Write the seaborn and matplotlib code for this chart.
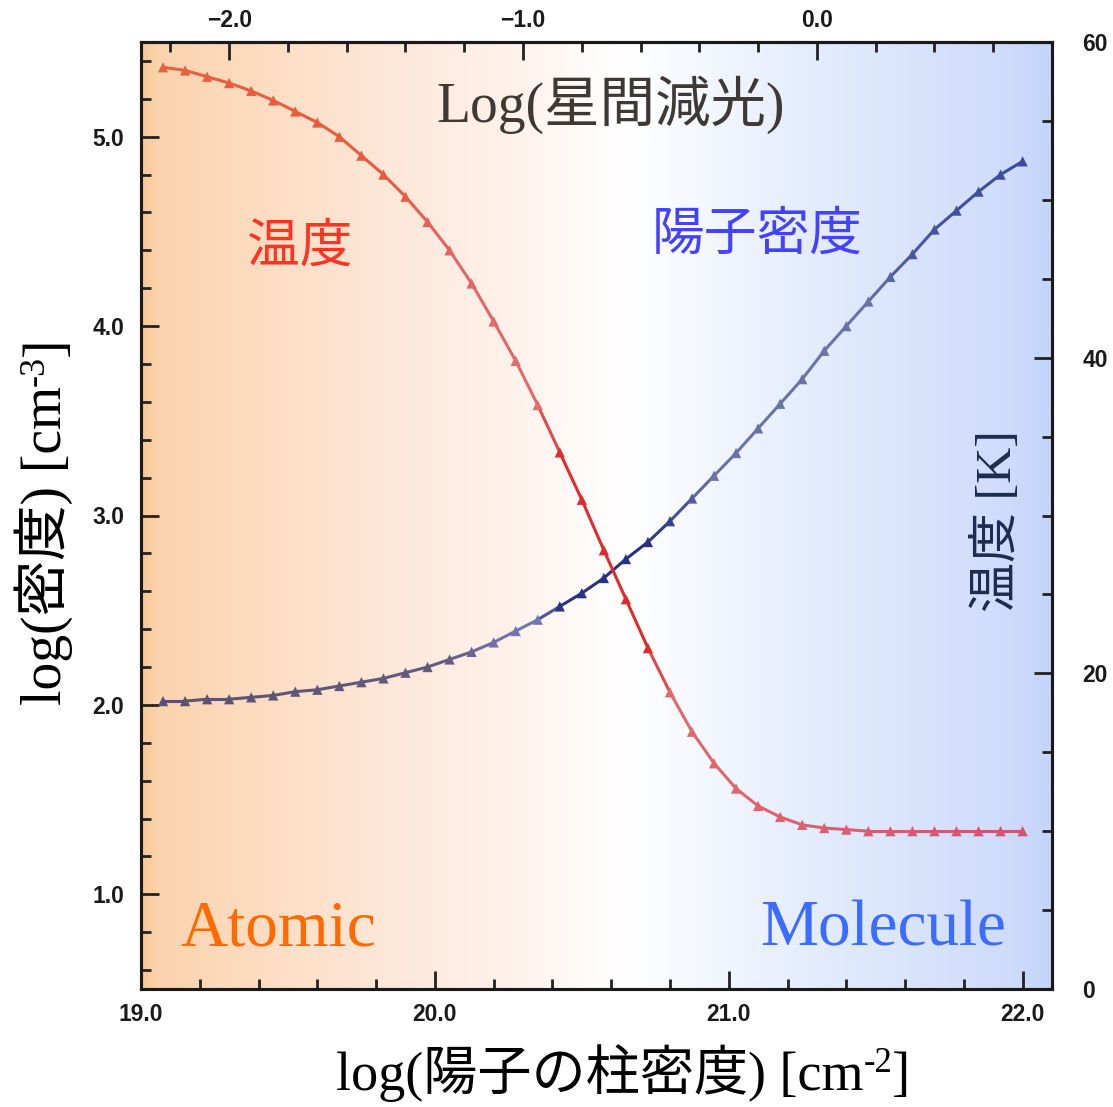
import numpy as np
import pandas as pd
import seaborn as sns
import matplotlib
matplotlib.use("Agg")
import matplotlib.pyplot as plt
from matplotlib.ticker import MultipleLocator, FixedLocator
from matplotlib.colors import LinearSegmentedColormap, to_rgb, to_hex
from matplotlib.transforms import IdentityTransform

# ---------------- data ----------------
column_density = [19.075, 19.15, 19.225, 19.3, 19.375, 19.45, 19.525, 19.6, 19.675, 19.75,
                  19.825, 19.9, 19.975, 20.05, 20.125, 20.2, 20.275, 20.35, 20.425, 20.5,
                  20.575, 20.65, 20.725, 20.8, 20.875, 20.95, 21.025, 21.1, 21.175, 21.25,
                  21.325, 21.4, 21.475, 21.55, 21.625, 21.7, 21.775, 21.85, 21.925, 22.0]
temperature = [58.4, 58.2, 57.8, 57.4, 56.9, 56.3, 55.6, 54.9, 54.0, 52.8,
               51.6, 50.2, 48.6, 46.8, 44.7, 42.3, 39.8, 37.0, 34.0, 31.0,
               27.8, 24.7, 21.6, 18.8, 16.3, 14.3, 12.7, 11.6, 10.9, 10.4,
               10.2, 10.1, 10.0, 10.0, 10.0, 10.0, 10.0, 10.0, 10.0, 10.0]
log_density = [2.02, 2.02, 2.03, 2.03, 2.04, 2.05, 2.07, 2.08, 2.10, 2.12,
               2.14, 2.17, 2.20, 2.24, 2.28, 2.33, 2.39, 2.45, 2.52, 2.59,
               2.67, 2.77, 2.86, 2.97, 3.09, 3.21, 3.33, 3.46, 3.59, 3.72,
               3.87, 4.00, 4.13, 4.26, 4.38, 4.51, 4.61, 4.71, 4.80, 4.87]
bottom_ticks = [19.0, 20.0, 21.0, 22.0]
bottom_labels = ["19.0", "20.0", "21.0", "22.0"]
left_ticks = [1.0, 2.0, 3.0, 4.0, 5.0]
left_labels = ["1.0", "2.0", "3.0", "4.0", "5.0"]
right_ticks = [0, 20, 40, 60]
right_labels = ["0", "20", "40", "60"]
top_ticks = [-2.0, -1.0, 0.0]
top_labels = ["\u22122.0", "\u22121.0", "0.0"]
av_offset = 21.3   # log(Av) = log(N) - 21.3

# ---------------- style ----------------
sns.set_style("ticks")
plt.rcParams["font.family"] = ["Liberation Sans", "Noto Sans CJK JP", "DejaVu Sans"]
SERIF = ["Liberation Serif", "DejaVu Serif", "Noto Sans CJK JP"]
CJK = ["Noto Sans CJK JP", "DejaVu Sans"]

W, H = 1113, 1107
fig = plt.figure(figsize=(W / 100, H / 100), dpi=100)
L, R, T, B = 141, 1052, 42, 989
ax = fig.add_axes([L / W, 1 - B / H, (R - L) / W, (B - T) / H])

xlim = (19.0, 22.1)
ylim = (0.5, 5.5)

# background gradient
gpos = [0.0, 0.015, 0.17, 0.32, 0.43, 0.49, 0.54, 0.62, 0.72, 0.84, 0.95, 1.0]
gcol = ["#f8c894", "#fbd3ad", "#fde0c9", "#feebdf", "#fff4ef", "#fffcfb", "#ffffff",
        "#f4f7fe", "#e6eefd", "#dae5fc", "#cfdcfb", "#c4d5fa"]
cmap = LinearSegmentedColormap.from_list("bg", list(zip(gpos, gcol)))
ax.imshow(np.linspace(0, 1, 600)[None, :], cmap=cmap, aspect="auto",
          extent=(xlim[0], xlim[1], ylim[0], ylim[1]), zorder=0, interpolation="bicubic")

def interp_colors(anchors, n):
    idx = sorted(anchors)
    out = []
    for i in range(n):
        for a, b in zip(idx[:-1], idx[1:]):
            if a <= i <= b:
                t = (i - a) / (b - a)
                ca, cb = np.array(to_rgb(anchors[a])), np.array(to_rgb(anchors[b]))
                out.append(to_hex(ca + (cb - ca) * t))
                break
    return out

def draw_curve(axis, xs, ys, anchors, z):
    n = len(xs)
    cols = interp_colors(anchors, n)
    for i in range(n - 1):
        c = to_hex((np.array(to_rgb(cols[i])) + np.array(to_rgb(cols[i + 1]))) / 2)
        sns.lineplot(x=xs[i:i + 2], y=ys[i:i + 2], ax=axis, color=c, lw=2.2,
                     sort=False, zorder=z, solid_capstyle="round")
    df = pd.DataFrame({"x": xs, "y": ys, "k": [str(i) for i in range(n)]})
    sns.scatterplot(data=df, x="x", y="y", hue="k",
                    palette={str(i): cols[i] for i in range(n)},
                    marker="^", s=55, edgecolor="none", legend=False, ax=axis, zorder=z + 1)

blue_anchors = {0: "#5a5070", 13: "#645c80", 15: "#6f72a8", 17: "#7078b0", 18: "#2a3384",
                22: "#27317f", 23: "#3a4590", 25: "#6a72a8", 32: "#6a72ac", 34: "#4a56a0",
                39: "#3b4aa0"}
red_anchors = {0: "#e9603f", 10: "#e85a3e", 13: "#e36565", 17: "#e46a6a", 18: "#d93030",
               22: "#dd2a2a", 23: "#e06a6a", 28: "#dc6270", 39: "#cf5570"}

draw_curve(ax, column_density, log_density, blue_anchors, 3)

ax2 = ax.twinx()
draw_curve(ax2, column_density, temperature, red_anchors, 3)

ax.set_xlim(*xlim)
ax.set_ylim(*ylim)
ax2.set_ylim(0, 60)
ax.set_xlabel("")
ax.set_ylabel("")
ax2.set_ylabel("")

tick_col = "#222222"
lab_font = dict(family=["Liberation Sans", "DejaVu Sans"], weight="bold", size=16.5)

ax.xaxis.set_major_locator(FixedLocator(bottom_ticks))
ax.set_xticklabels(bottom_labels, **lab_font)
ax.xaxis.set_minor_locator(MultipleLocator(0.2))
ax.yaxis.set_major_locator(FixedLocator(left_ticks))
ax.set_yticklabels(left_labels, **lab_font)
ax.yaxis.set_minor_locator(MultipleLocator(0.2))
ax.tick_params(which="major", direction="in", length=13, width=2, color=tick_col, labelcolor="#1a1a1a")
ax.tick_params(which="minor", direction="in", length=7, width=2, color=tick_col)
ax.tick_params(axis="x", which="major", pad=10)
ax.tick_params(axis="y", which="major", pad=12)

ax2.yaxis.set_major_locator(FixedLocator(right_ticks))
ax2.set_yticklabels(right_labels, **lab_font)
ax2.yaxis.set_minor_locator(MultipleLocator(5))
ax2.tick_params(which="major", direction="in", length=13, width=2, color=tick_col, labelcolor="#1a1a1a", pad=22)
ax2.tick_params(which="minor", direction="in", length=7, width=2, color=tick_col)

sec = ax.secondary_xaxis("top", functions=(lambda v: v - av_offset, lambda v: v + av_offset))
sec.xaxis.set_major_locator(FixedLocator(top_ticks))
sec.set_xticklabels(top_labels, **lab_font)
sec.xaxis.set_minor_locator(MultipleLocator(0.2))
sec.tick_params(which="major", direction="in", length=13, width=2, color=tick_col, labelcolor="#1a1a1a", pad=7)
sec.tick_params(which="minor", direction="in", length=7, width=2, color=tick_col)

for a in (ax, ax2):
    for s in a.spines.values():
        s.set_linewidth(2.2)
        s.set_color("#1a1a1a")
        s.set_visible(True)
for s in sec.spines.values():
    s.set_linewidth(2.2)
    s.set_color("#1a1a1a")

# ---------------- texts ----------------
def fx(px): return px / W
def fy(py): return 1 - py / H

def compose(parts, cx, cy, rot=0, color="#000000"):
    """Lay out text pieces (text, fontsize, rise_px) side by side, centred at image px (cx, cy)."""
    r = fig.canvas.get_renderer()
    objs = [fig.text(0, 0, s, fontsize=fs, family=SERIF, color=color, rotation=rot,
                     rotation_mode="anchor", ha="left", va="baseline",
                     transform=IdentityTransform()) for s, fs, rise in parts]
    ext = [o.get_window_extent(r) for o in objs]
    if rot == 0:
        lens = [e.width for e in ext]
        cross = (ext[0].y0 + ext[0].y1) / 2
    else:
        lens = [e.height for e in ext]
        cross = (ext[0].x0 + ext[0].x1) / 2
    total = sum(lens)
    Xc, Yc = cx, H - cy
    pos = -total / 2
    for o, ln, (s, fs, rise) in zip(objs, lens, parts):
        if rot == 0:
            o.set_position((Xc + pos, Yc - cross + rise))
        else:
            o.set_position((Xc - cross - rise, Yc + pos))
        pos += ln

compose([("log(密度) [cm", 40, 0), ("-3", 26, 18), ("]", 40, 0)], 44, 521, rot=90)
compose([("log(陽子の柱密度) [cm", 39, 0), ("-2", 25, 18), ("]", 39, 0)], 623, 1073, rot=0)

fig.text(fx(998), fy(521), "温度 [K]", rotation=90, ha="center", va="center",
         fontsize=36, family=SERIF, color="#1c2b4f")
fig.text(fx(611), fy(105), "Log(星間減光)", ha="center", va="center",
         fontsize=40, family=SERIF, color="#3f3935")
fig.text(fx(300), fy(246), "温度", ha="center", va="center", fontsize=38, family=CJK, color="#ff3322")
fig.text(fx(757), fy(234), "陽子密度", ha="center", va="center", fontsize=38, family=CJK, color="#4343ff")
fig.text(fx(180), fy(945), "Atomic", ha="left", va="baseline", fontsize=47, family=SERIF, color="#ff6a00")
fig.text(fx(760), fy(945), "Molecule", ha="left", va="baseline", fontsize=47, family=SERIF, color="#3a6cff")

fig.savefig("out.png", dpi=100)
